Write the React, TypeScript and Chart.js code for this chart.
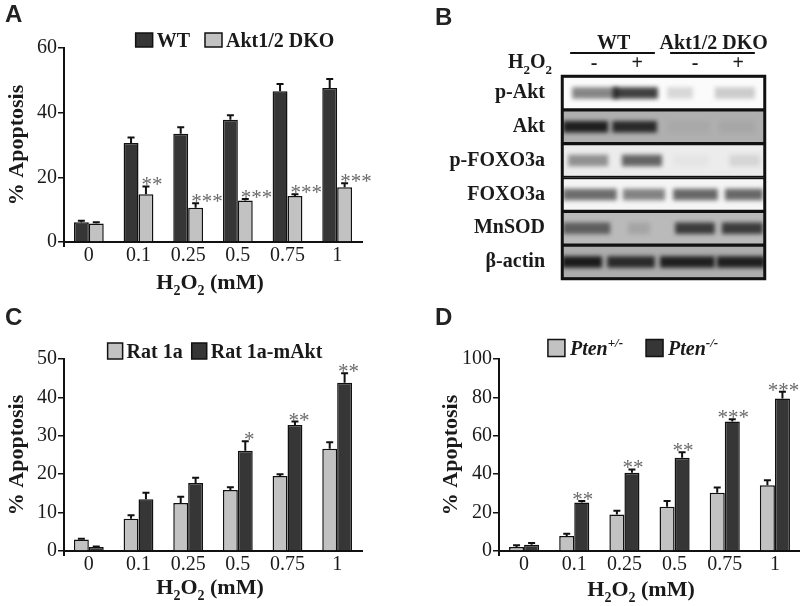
import React, { useEffect, useRef } from 'react';
import { Chart, registerables } from 'chart.js';

Chart.register(...registerables);

// ---------------- data ----------------
const doses = ['0', '0.1', '0.25', '0.5', '0.75', '1'];

// Panel A
const wtA = [6.1, 30.6, 33.5, 37.8, 46.6, 47.6];
const wtAErr = [0.5, 1.7, 2.0, 1.4, 2.3, 2.8];
const dkoA = [5.7, 14.8, 10.6, 12.8, 14.2, 16.9];
const dkoAErr = [0.4, 2.4, 1.4, 0.5, 0.6, 1.3];
const starsA = ['', '**', '***', '***', '***', '***'];

// Panel C
const ratC = [3.0, 8.4, 12.5, 15.9, 19.5, 26.6];
const ratCErr = [0.2, 0.9, 1.6, 0.7, 0.5, 1.7];
const maktC = [1.05, 13.5, 17.7, 26.1, 32.8, 43.8];
const maktCErr = [0.1, 1.7, 1.4, 2.5, 0.9, 2.5];
const starsC = ['', '', '', '*', '**', '**'];

// Panel D
const hetD = [2.1, 7.8, 19.0, 23.0, 30.3, 34.3];
const hetDErr = [0.9, 1.2, 1.9, 3.0, 2.8, 2.5];
const koD = [3.3, 25.3, 40.8, 48.6, 67.4, 79.4];
const koDErr = [0.9, 0.8, 1.7, 2.8, 1.2, 3.5];
const starsD = ['', '**', '**', '**', '***', '***'];

// Panel B (western blot)
const blotRows = ['p-Akt', 'Akt', 'p-FOXO3a', 'FOXO3a', 'MnSOD', 'β-actin'];
const blotShade = ['#fbfbfb', '#afafaf', '#ececec', '#f5f5f5', '#bababa', '#adadad'];
const laneCenters = [0.63, 1.48, 2.62, 3.47];
const laneSigns = ['-', '+', '-', '+'];
const groupNames = ['WT', 'Akt1/2 DKO'];
const groupCenters = [1.02, 2.99];
const groupSpans = [[0.16, 1.83], [2.13, 3.8]];
const bandsLane1 = [[0.2, 1.11], [0.02, 0.91], [0.12, 0.91], [0.02, 1.08], [0.02, 0.95], [0.0, 0.79]];
const inkLane1 = [0.5, 0.92, 0.42, 0.6, 0.55, 0.95];
const bandsLane2 = [[1.0, 1.89], [0.99, 1.87], [1.18, 1.97], [1.2, 2.03], [1.3, 1.73], [0.89, 1.83]];
const inkLane2 = [0.8, 0.85, 0.62, 0.5, 0.12, 0.85];
const bandsLane3 = [[2.07, 2.58], [2.1, 2.9], [2.2, 2.9], [2.19, 3.07], [2.23, 3.01], [1.93, 3.01]];
const inkLane3 = [0.15, 0.04, 0.03, 0.62, 0.75, 0.92];
const bandsLane4 = [[3.01, 3.8], [3.1, 3.8], [3.3, 3.9], [3.21, 3.96], [3.15, 3.96], [3.05, 4.0]];
const inkLane4 = [0.2, 0.05, 0.1, 0.62, 0.75, 0.92];

// ---------------- styling ----------------
const SERIF = '"Liberation Serif", "Times New Roman", serif';
const DARK = '#363636';
const LIGHT = '#c2c2c2';
const INK = '#1a1a1a';

type Part = { t: string; sub?: boolean; sup?: boolean };
const h2o2: Part[] = [{ t: 'H' }, { t: '2', sub: true }, { t: 'O' }, { t: '2', sub: true }, { t: ' (mM)' }];
const h2o2Short: Part[] = [{ t: 'H' }, { t: '2', sub: true }, { t: 'O' }, { t: '2', sub: true }];

function partFont(p: Part, size: number, style: string) {
  const s = p.sub || p.sup ? Math.round(size * 0.65) : size;
  return `${style} ${s}px ${SERIF}`;
}
function partsWidth(ctx: CanvasRenderingContext2D, parts: Part[], size: number, style: string) {
  let w = 0;
  for (const p of parts) {
    ctx.font = partFont(p, size, style);
    w += ctx.measureText(p.t).width;
  }
  return w;
}
function drawParts(ctx: CanvasRenderingContext2D, parts: Part[], x: number, y: number, size: number, style: string, align: string) {
  const w = partsWidth(ctx, parts, size, style);
  let cx = align === 'center' ? x - w / 2 : align === 'right' ? x - w : x;
  ctx.save();
  ctx.fillStyle = INK;
  ctx.textAlign = 'left';
  ctx.textBaseline = 'alphabetic';
  for (const p of parts) {
    ctx.font = partFont(p, size, style);
    const dy = p.sub ? size * 0.28 : p.sup ? -size * 0.4 : 0;
    ctx.fillText(p.t, cx, y + dy);
    cx += ctx.measureText(p.t).width;
  }
  ctx.restore();
}

// ---------------- plugins ----------------
const errorBarPlugin = {
  id: 'errorBars',
  afterDatasetsDraw(chart: any) {
    const ctx = chart.ctx;
    const y = chart.scales.y;
    chart.data.datasets.forEach((ds: any, i: number) => {
      if (!ds.errors) return;
      const meta = chart.getDatasetMeta(i);
      meta.data.forEach((bar: any, j: number) => {
        const top = y.getPixelForValue(ds.data[j] + ds.errors[j]);
        ctx.save();
        ctx.strokeStyle = '#111';
        ctx.lineWidth = 2;
        ctx.beginPath();
        ctx.moveTo(bar.x, bar.y);
        ctx.lineTo(bar.x, top);
        ctx.moveTo(bar.x - 3.5, top);
        ctx.lineTo(bar.x + 3.5, top);
        ctx.stroke();
        ctx.restore();
      });
    });
  },
};

const starsPlugin = {
  id: 'stars',
  afterDatasetsDraw(chart: any, _a: any, opts: any) {
    const ctx = chart.ctx;
    const y = chart.scales.y;
    chart.data.datasets.forEach((ds: any, i: number) => {
      if (!ds.stars) return;
      const meta = chart.getDatasetMeta(i);
      meta.data.forEach((bar: any, j: number) => {
        const s = ds.stars[j];
        if (!s) return;
        const top = y.getPixelForValue(ds.data[j] + ds.errors[j]);
        ctx.save();
        ctx.font = `21px ${SERIF}`;
        ctx.fillStyle = '#6a6a6a';
        ctx.textBaseline = 'alphabetic';
        const m = ctx.measureText(s);
        const by = top - 1 - m.actualBoundingBoxDescent;
        if (opts.align === 'left') {
          ctx.textAlign = 'left';
          ctx.fillText(s, bar.x - bar.width / 2 + opts.dx, by);
        } else {
          ctx.textAlign = 'center';
          ctx.fillText(s, bar.x + opts.dx, by);
        }
        ctx.restore();
      });
    });
  },
};

const boxLegendPlugin = {
  id: 'boxLegend',
  afterDraw(chart: any, _a: any, opts: any) {
    if (!opts || opts.cx == null) return;
    const ctx = chart.ctx;
    const style = opts.italic ? 'italic bold' : 'bold';
    const size = 20;
    const items = chart.data.datasets.map((ds: any) => ({ parts: ds.legendParts as Part[], color: ds.backgroundColor }));
    const widths = items.map((it: any) => partsWidth(ctx, it.parts, size, style));
    let total = 0;
    widths.forEach((w: number) => (total += opts.boxW + opts.textGap + w));
    total += opts.gap * (items.length - 1);
    let x = opts.cx - total / 2;
    items.forEach((it: any, i: number) => {
      ctx.save();
      ctx.fillStyle = it.color;
      ctx.fillRect(x, opts.cy - opts.boxH / 2, opts.boxW, opts.boxH);
      ctx.strokeStyle = '#111';
      ctx.lineWidth = 1.5;
      ctx.strokeRect(x, opts.cy - opts.boxH / 2, opts.boxW, opts.boxH);
      ctx.restore();
      x += opts.boxW + opts.textGap;
      drawParts(ctx, it.parts, x, opts.cy + 7, size, style, 'left');
      x += widths[i] + opts.gap;
    });
  },
};

const xTitlePlugin = {
  id: 'xTitle',
  afterDraw(chart: any, _a: any, opts: any) {
    if (!opts || opts.cx == null) return;
    drawParts(chart.ctx, h2o2, opts.cx, opts.y, 22, 'bold', 'center');
  },
};

const axisStubPlugin = {
  id: 'axisStub',
  afterDraw(chart: any) {
    const a = chart.chartArea;
    const ctx = chart.ctx;
    ctx.save();
    ctx.strokeStyle = '#111';
    ctx.lineWidth = 2;
    ctx.beginPath();
    ctx.moveTo(a.left, a.bottom);
    ctx.lineTo(a.left, a.bottom + 5);
    ctx.stroke();
    ctx.restore();
  },
};

const blurPlugin = {
  id: 'bandBlur',
  beforeDatasetDraw(chart: any, args: any) {
    if (chart.data.datasets[args.index].blur) {
      chart.ctx.save();
      chart.ctx.filter = 'blur(2.2px)';
    }
  },
  afterDatasetDraw(chart: any, args: any) {
    if (chart.data.datasets[args.index].blur) chart.ctx.restore();
  },
};

const blotHeaderPlugin = {
  id: 'blotHeader',
  afterDraw(chart: any, _a: any, opts: any) {
    const ctx = chart.ctx;
    const x = chart.scales.x;
    groupNames.forEach((name, i) => {
      drawParts(ctx, [{ t: name }], x.getPixelForValue(groupCenters[i]), opts.groupY, 20, 'bold', 'center');
      ctx.save();
      ctx.strokeStyle = '#111';
      ctx.lineWidth = 2;
      ctx.beginPath();
      ctx.moveTo(x.getPixelForValue(groupSpans[i][0]), opts.lineY);
      ctx.lineTo(x.getPixelForValue(groupSpans[i][1]), opts.lineY);
      ctx.stroke();
      ctx.restore();
    });
    drawParts(ctx, h2o2Short, chart.chartArea.left - 10, opts.treatY, 20, 'bold', 'right');
    const a = chart.chartArea;
    ctx.save();
    ctx.strokeStyle = '#111';
    ctx.lineWidth = 2.5;
    ctx.strokeRect(a.left, a.top, a.right - a.left, a.bottom - a.top);
    ctx.restore();
  },
};

// ---------------- panels ----------------
type Series = { parts: Part[]; data: number[]; err: number[]; color: string; stars?: string[] };
type PanelCfg = {
  W: number;
  H: number;
  area: { l: number; r: number; t: number; b: number };
  yMax: number;
  step: number;
  titlePad: number;
  tickPad: number;
  series: Series[];
  legend: any;
  xTitle: { cx: number; y: number };
  stars: { align: string; dx: number };
};

const panelA: PanelCfg = {
  W: 400,
  H: 300,
  area: { l: 64, r: 362, t: 48, b: 242 },
  yMax: 60,
  step: 20,
  titlePad: 4,
  tickPad: 2,
  series: [
    { parts: [{ t: 'WT' }], data: wtA, err: wtAErr, color: DARK },
    { parts: [{ t: 'Akt1/2 DKO' }], data: dkoA, err: dkoAErr, color: LIGHT, stars: starsA },
  ],
  legend: { cx: 235, cy: 40, gap: 15, textGap: 4, boxW: 17, boxH: 14 },
  xTitle: { cx: 210, y: 289 },
  stars: { align: 'left', dx: 3 },
};

const panelC: PanelCfg = {
  W: 400,
  H: 306,
  area: { l: 64, r: 362, t: 59, b: 251 },
  yMax: 50,
  step: 10,
  titlePad: 4,
  tickPad: 2,
  series: [
    { parts: [{ t: 'Rat 1a' }], data: ratC, err: ratCErr, color: LIGHT },
    { parts: [{ t: 'Rat 1a-mAkt' }], data: maktC, err: maktCErr, color: DARK, stars: starsC },
  ],
  legend: { cx: 215, cy: 51, gap: 9, textGap: 4, boxW: 15, boxH: 16 },
  xTitle: { cx: 210, y: 294 },
  stars: { align: 'center', dx: 4 },
};

const panelD: PanelCfg = {
  W: 400,
  H: 306,
  area: { l: 99, r: 400, t: 59, b: 251 },
  yMax: 100,
  step: 20,
  titlePad: 38,
  tickPad: 2,
  series: [
    { parts: [{ t: 'Pten' }, { t: '+/-', sup: true }], data: hetD, err: hetDErr, color: LIGHT },
    { parts: [{ t: 'Pten' }, { t: '-/-', sup: true }], data: koD, err: koDErr, color: DARK, stars: starsD },
  ],
  legend: { cx: 233, cy: 48, gap: 23, textGap: 5, boxW: 17, boxH: 17, italic: true },
  xTitle: { cx: 241, y: 296 },
  stars: { align: 'center', dx: 1 },
};

function BarPanel({ cfg, left, top }: { cfg: PanelCfg; left: number; top: number }) {
  const ref = useRef<HTMLCanvasElement>(null);
  useEffect(() => {
    if (!ref.current) return;
    const { W, H, area } = cfg;
    const chart = new Chart(ref.current, {
      type: 'bar',
      data: {
        labels: doses,
        datasets: cfg.series.map((s) => ({
          data: s.data,
          errors: s.err,
          stars: s.stars,
          legendParts: s.parts,
          backgroundColor: s.color,
          borderColor: '#111',
          borderWidth: 1.5,
          barPercentage: 1,
          categoryPercentage: 0.6,
        })) as any,
      },
      options: {
        animation: false,
        responsive: false,
        events: [],
        layout: { padding: { left: 0, right: W - area.r, top: area.t, bottom: 0 } },
        plugins: {
          legend: { display: false },
          tooltip: { enabled: false },
          boxLegend: cfg.legend,
          xTitle: cfg.xTitle,
          stars: cfg.stars,
        } as any,
        scales: {
          x: {
            type: 'category',
            grid: { display: false, drawTicks: false },
            border: { display: true, color: '#111', width: 2 },
            ticks: { font: { family: SERIF, size: 20 }, color: INK, padding: cfg.tickPad, maxRotation: 0, autoSkip: false },
            afterFit: (s: any) => {
              s.height = H - area.b;
            },
          },
          y: {
            min: 0,
            max: cfg.yMax,
            ticks: { stepSize: cfg.step, font: { family: SERIF, size: 20 }, color: INK, padding: 1 },
            grid: { drawOnChartArea: false, drawTicks: true, tickLength: 6, color: '#111', lineWidth: 1.5 },
            border: { display: true, color: '#111', width: 2 },
            title: {
              display: true,
              text: '% Apoptosis',
              font: { family: SERIF, size: 22, weight: 'bold' },
              color: INK,
              padding: { top: cfg.titlePad, bottom: 0 },
            },
            afterFit: (s: any) => {
              s.width = area.l;
            },
          },
        },
      },
      plugins: [errorBarPlugin, starsPlugin, boxLegendPlugin, xTitlePlugin, axisStubPlugin],
    });
    return () => chart.destroy();
  }, [cfg]);
  return (
    <canvas
      ref={ref}
      width={cfg.W}
      height={cfg.H}
      style={{ position: 'absolute', left, top, width: cfg.W, height: cfg.H }}
    />
  );
}

function BlotPanel({ left, top }: { left: number; top: number }) {
  const ref = useRef<HTMLCanvasElement>(null);
  useEffect(() => {
    if (!ref.current) return;
    const W = 400;
    const H = 300;
    const lanes = [
      { bands: bandsLane1, ink: inkLane1 },
      { bands: bandsLane2, ink: inkLane2 },
      { bands: bandsLane3, ink: inkLane3 },
      { bands: bandsLane4, ink: inkLane4 },
    ];
    const chart = new Chart(ref.current, {
      type: 'bar',
      data: {
        labels: blotRows,
        datasets: [
          {
            data: blotRows.map(() => [0, 4]),
            backgroundColor: blotShade,
            borderColor: '#111',
            borderWidth: 2,
            borderSkipped: false,
            barPercentage: 1,
            categoryPercentage: 1,
            grouped: false,
            order: 10,
          },
          ...lanes.map((l) => ({
            data: l.bands,
            backgroundColor: l.ink.map((a) => `rgba(18,18,18,${a})`),
            borderWidth: 0,
            barPercentage: 0.34,
            categoryPercentage: 1,
            grouped: false,
            blur: true,
            order: 0,
          })),
        ] as any,
      },
      options: {
        animation: false,
        responsive: false,
        events: [],
        indexAxis: 'y',
        layout: { padding: { left: 0, right: W - 365, top: 0, bottom: H - 280 } },
        plugins: {
          legend: { display: false },
          tooltip: { enabled: false },
          blotHeader: { groupY: 49, lineY: 53, treatY: 68 },
        } as any,
        scales: {
          x: {
            type: 'linear',
            position: 'top',
            min: 0,
            max: 4,
            grid: { display: false, drawTicks: false },
            border: { display: false },
            afterBuildTicks: (s: any) => {
              s.ticks = laneCenters.map((v) => ({ value: v }));
            },
            ticks: {
              callback: (_v: any, i: number) => laneSigns[i],
              font: { family: SERIF, size: 20, weight: 'bold' },
              color: INK,
              padding: 0,
              maxRotation: 0,
              autoSkip: false,
            },
            afterFit: (s: any) => {
              s.height = 76;
            },
          },
          y: {
            type: 'category',
            grid: { display: false },
            border: { display: false },
            ticks: { font: { family: SERIF, size: 20, weight: 'bold' }, color: INK, padding: 9 },
            afterFit: (s: any) => {
              s.width = 162;
            },
          },
        },
      },
      plugins: [blurPlugin, blotHeaderPlugin],
    });
    return () => chart.destroy();
  }, []);
  return (
    <canvas ref={ref} width={400} height={300} style={{ position: 'absolute', left, top, width: 400, height: 300 }} />
  );
}

const letterStyle: React.CSSProperties = {
  position: 'absolute',
  font: 'bold 24px "Liberation Sans", Arial, sans-serif',
  lineHeight: '24px',
  color: '#222',
};

export default function App() {
  return (
    <div style={{ position: 'absolute', left: 0, top: 0, width: 800, height: 606, background: '#fff', overflow: 'hidden' }}>
      <BarPanel cfg={panelA} left={0} top={0} />
      <BlotPanel left={400} top={0} />
      <BarPanel cfg={panelC} left={0} top={300} />
      <BarPanel cfg={panelD} left={400} top={300} />
      <div style={{ ...letterStyle, left: 5, top: 2 }}>A</div>
      <div style={{ ...letterStyle, left: 435, top: 5 }}>B</div>
      <div style={{ ...letterStyle, left: 5, top: 305 }}>C</div>
      <div style={{ ...letterStyle, left: 435, top: 305 }}>D</div>
    </div>
  );
}
